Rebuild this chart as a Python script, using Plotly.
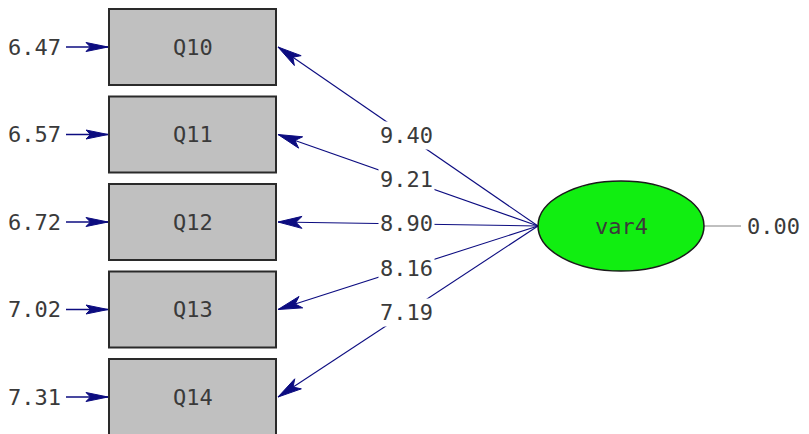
import plotly.graph_objects as go
import math

# ---- data ----
indicators = ["Q10", "Q11", "Q12", "Q13", "Q14"]
error_variances = ["6.47", "6.57", "6.72", "7.02", "7.31"]
loadings = ["9.40", "9.21", "8.90", "8.16", "7.19"]
latent_name = "var4"
latent_variance = "0.00"

# ---- layout constants (pixels) ----
W, H = 809, 434
OFF = 8  # page body margin compensation
BOX_L, BOX_R = 109, 276
BOX_TOP0, BOX_H, PITCH = 9, 76, 87.5
ELL_CX, ELL_CY, ELL_RX, ELL_RY = 621, 226, 83, 45
LABEL_X = 406
NAVY = "#0c0c80"
TXT = "#3a3a3a"
FONT = dict(family="DejaVu Sans Mono", size=22, color=TXT)

fig = go.Figure()
shapes = []
annotations = []


def arrowhead(tip, tail, L=20, w=4.5, notch=0.7):
    tx, ty = tip
    dx, dy = tail[0] - tx, tail[1] - ty
    d = math.hypot(dx, dy)
    ux, uy = dx / d, dy / d
    px, py = -uy, ux
    bx, by = tx + ux * L, ty + uy * L
    nx, ny = tx + ux * L * notch, ty + uy * L * notch
    xs = [tx, bx + px * w, nx, bx - px * w, tx]
    ys = [ty, by + py * w, ny, by - py * w, ty]
    return xs, ys


def add_head(tip, tail, **kw):
    xs, ys = arrowhead(tip, tail, **kw)
    fig.add_trace(go.Scatter(x=xs, y=ys, mode="lines", fill="toself",
                             fillcolor=NAVY, line=dict(color=NAVY, width=1),
                             hoverinfo="skip", showlegend=False))


for i, name in enumerate(indicators):
    top = BOX_TOP0 + i * PITCH
    cy = top + BOX_H / 2
    shapes.append(dict(type="rect", x0=BOX_L, x1=BOX_R, y0=top, y1=top + BOX_H,
                       xref="x", yref="y", fillcolor="#c0c0c0",
                       line=dict(color="#2a2a2a", width=2), layer="below"))
    annotations.append(dict(x=(BOX_L + BOX_R) / 2, y=cy, text=name, showarrow=False,
                            font=FONT, xref="x", yref="y"))
    # error arrow
    fig.add_trace(go.Scatter(x=[66, BOX_L - 1], y=[cy, cy], mode="lines",
                             line=dict(color=NAVY, width=1.3), hoverinfo="skip",
                             showlegend=False))
    add_head((BOX_L - 1, cy), (66, cy), L=22, w=4.5, notch=0.8)
    annotations.append(dict(x=63, y=cy, text=error_variances[i], showarrow=False,
                            xanchor="right", font=FONT, xref="x", yref="y"))
    # loading arrow
    tail = (ELL_CX - ELL_RX, ELL_CY)
    tip = (BOX_R + 2, cy)
    fig.add_trace(go.Scatter(x=[tail[0], tip[0]], y=[tail[1], tip[1]], mode="lines",
                             line=dict(color=NAVY, width=1.1), hoverinfo="skip",
                             showlegend=False))
    add_head(tip, tail, L=24, w=6, notch=0.75)
    t = (tail[0] - LABEL_X) / (tail[0] - tip[0])
    ly = tail[1] + t * (tip[1] - tail[1])
    annotations.append(dict(x=LABEL_X, y=ly, text=loadings[i], showarrow=False,
                            bgcolor="white", borderpad=1, font=FONT,
                            xref="x", yref="y"))

# latent ellipse
shapes.append(dict(type="circle", x0=ELL_CX - ELL_RX, x1=ELL_CX + ELL_RX,
                   y0=ELL_CY - ELL_RY, y1=ELL_CY + ELL_RY, xref="x", yref="y",
                   fillcolor="#11ee11", line=dict(color="#1a1a1a", width=1.5)))
annotations.append(dict(x=ELL_CX, y=ELL_CY, text=latent_name, showarrow=False,
                        font=FONT, xref="x", yref="y"))
# latent variance
fig.add_trace(go.Scatter(x=[ELL_CX + ELL_RX, 741], y=[ELL_CY, ELL_CY], mode="lines",
                         line=dict(color="#808080", width=1), hoverinfo="skip",
                         showlegend=False))
annotations.append(dict(x=745, y=ELL_CY, text=latent_variance, showarrow=False,
                        xanchor="left", font=FONT, xref="x", yref="y"))

fig.update_layout(
    width=W, height=H, margin=dict(l=0, r=0, t=0, b=0),
    paper_bgcolor="white", plot_bgcolor="white",
    xaxis=dict(range=[OFF, W + OFF], visible=False, fixedrange=True),
    yaxis=dict(range=[H + OFF, OFF], visible=False, fixedrange=True),
    shapes=shapes, annotations=annotations, showlegend=False,
)
fig.write_html("out.html")
